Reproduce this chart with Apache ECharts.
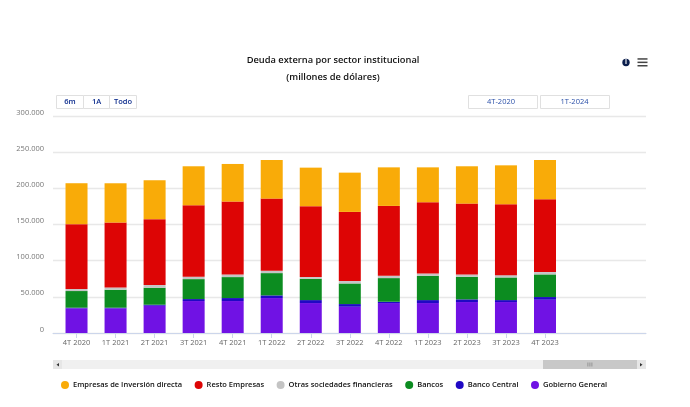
<!DOCTYPE html>
<html><head><meta charset="utf-8">
<style>html,body{margin:0;padding:0;background:#fff}#c{width:690px;height:407px}</style>
<script src="https://cdn.jsdelivr.net/npm/echarts@6/dist/echarts.min.js"></script>
</head><body><div id="c"></div>
<script>
const categories = ['4T 2020','1T 2021','2T 2021','3T 2021','4T 2021','1T 2022','2T 2022','3T 2022','4T 2022','1T 2023','2T 2023','3T 2023','4T 2023','',''];
const gobierno = [34000,34000,37700,44200,44200,48300,41400,36300,41400,41400,42800,42800,46000];
const bancoCentral = [1000,1000,1400,2700,4100,3700,4100,3700,1800,4100,3700,2700,3700];
const bancos = [23000,24800,23500,27600,29000,30800,29500,28500,32700,33600,31200,31300,31300];
const otras = [2760,3200,3680,3200,3700,3200,2300,3300,3200,3200,3300,3200,3200];
const resto = [89700,89700,91100,98900,100700,99800,98000,95600,96600,98500,97900,98000,100700];
const inversion = [56600,54300,53800,53900,52000,53400,53300,54300,53300,48200,51600,53800,54300];
const font = '"Open Sans", sans-serif';
const mk = (name, vals, color) => ({
  name, type: 'bar', stack: 'a', barWidth: 22, xAxisIndex: 1, yAxisIndex: 1, data: vals,
  itemStyle: { color }, emphasis: { disabled: true }
});
const fmt = v => String(v).replace(/\B(?=(\d{3})+$)/g, '.');
const btnText = { fill: '#0a2a8c', font: '600 7.5px ' + font, align: 'center', verticalAlign: 'middle' };
const rect = (x, y, w, h, fill, stroke) => ({ type: 'rect', silent: true, shape: { x, y, width: w, height: h }, style: { fill, stroke: stroke || null, lineWidth: 1 } });
const text = (x, y, t, st) => ({ type: 'text', silent: true, x, y, style: Object.assign({ text: t }, st) });
const dateText = { fill: '#2a4fa8', font: '7.5px ' + font, align: 'center', verticalAlign: 'middle' };
const graphic = [
  rect(56.5, 95.5, 27, 13, '#fff', '#e0e0e0'), rect(83.5, 95.5, 26, 13, '#fff', '#e0e0e0'), rect(109.5, 95.5, 27, 13, '#fff', '#e0e0e0'),
  text(70, 101.8, '6m', btnText), text(96.5, 101.8, '1A', btnText), text(123, 101.8, 'Todo', btnText),
  rect(468.5, 95.5, 69, 13, '#fff', '#e0e0e0'), rect(540.5, 95.5, 69, 13, '#fff', '#e0e0e0'),
  text(501, 101.8, '4T-2020', dateText), text(574.5, 101.8, '1T-2024', dateText),
  { type: 'circle', silent: true, shape: { cx: 626, cy: 62.5, r: 3.7 }, style: { fill: '#0c1f4d' } },
  text(626, 62.6, 'i', { fill: '#fff', font: 'bold 6.5px ' + font, align: 'center', verticalAlign: 'middle' }),
  rect(637.5, 58.2, 10, 1.5, '#444'), rect(637.5, 61.6, 10, 1.5, '#444'), rect(637.5, 65, 10, 1.5, '#444'),
  rect(53, 360, 593, 9, '#f0f0f0'),
  rect(53, 360, 9, 9, '#e6e6e6'),
  { type: 'polygon', silent: true, shape: { points: [[59, 363], [59, 366.5], [56.5, 364.7]] }, style: { fill: '#333' } },
  rect(543, 360, 94, 9, '#c8c8c8'),
  rect(587.5, 362.5, 0.8, 4, '#888'), rect(589.5, 362.5, 0.8, 4, '#888'), rect(591.5, 362.5, 0.8, 4, '#888'),
  rect(637, 360, 9, 9, '#e6e6e6'),
  { type: 'polygon', silent: true, shape: { points: [[640, 363], [640, 366.5], [642.5, 364.7]] }, style: { fill: '#333' } }
];
const chart = echarts.init(document.getElementById('c'), null, { renderer: 'canvas' });
chart.setOption({
  animation: false,
  backgroundColor: '#fff',
  title: {
    text: 'Deuda externa por sector institucional\n(millones de dólares)',
    left: 328, top: 47, textAlign: 'center',
    textStyle: { color: '#111', fontFamily: font, fontSize: 9.3, fontWeight: 600, lineHeight: 17 }
  },
  grid: [
    { left: 53, right: 44, top: 116, bottom: 74 },
    { left: 57, width: 585.6, top: 116, bottom: 74 }
  ],
  xAxis: [
    { type: 'value', gridIndex: 0, min: 0, max: 1, axisLabel: { show: false }, axisTick: { show: false }, splitLine: { show: false },
      axisLine: { show: true, onZero: false, lineStyle: { color: '#ccd6eb', width: 1 } } },
    { type: 'category', gridIndex: 1, data: categories,
      axisLine: { show: false },
      axisTick: { show: true, length: 5, alignWithLabel: true, interval: i => categories[i] !== '', lineStyle: { color: '#ccd6eb' } },
      axisLabel: { interval: 0, color: '#666', fontFamily: font, fontSize: 7.5, margin: 6 } }
  ],
  yAxis: [
    { type: 'value', gridIndex: 0, min: 0, max: 300000, interval: 50000,
      axisLine: { show: false }, axisTick: { show: false },
      splitLine: { lineStyle: { color: '#e8e8e8', width: 1.3 } },
      axisLabel: { color: '#777', fontFamily: font, fontSize: 7.5, margin: 9, align: 'right', verticalAlign: 'bottom', lineHeight: 7, formatter: fmt } },
    { type: 'value', gridIndex: 1, min: 0, max: 300000, interval: 50000, show: false }
  ],
  legend: {
    left: 61, top: 381, itemWidth: 8, itemHeight: 8, itemGap: 12.5, icon: 'circle',
    selectedMode: false, padding: 0,
    data: ['Empresas de Inversión directa','Resto Empresas','Otras sociedades financieras','Bancos','Banco Central','Gobierno General'],
    textStyle: { color: '#111', fontFamily: font, fontSize: 7.5, fontWeight: 600, padding: [0,0,0,-1] }
  },
  series: [
    mk('Gobierno General', gobierno, '#7012E4'),
    mk('Banco Central', bancoCentral, '#1F08C4'),
    mk('Bancos', bancos, '#0C8C20'),
    mk('Otras sociedades financieras', otras, '#C4C4C4'),
    mk('Resto Empresas', resto, '#DD0505'),
    mk('Empresas de Inversión directa', inversion, '#F9AB08')
  ],
  graphic
});
</script></body></html>
